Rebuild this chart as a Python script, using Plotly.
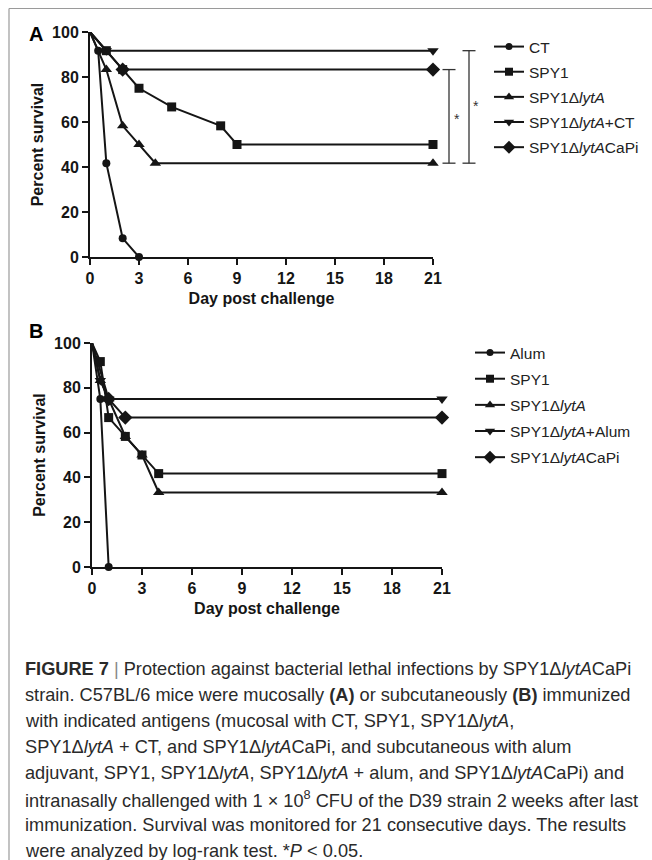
import plotly.graph_objects as go

W, H = 652, 860

# ---------------- data ----------------
days_ticks = [0, 3, 6, 9, 12, 15, 18, 21]
pct_ticks = [0, 20, 40, 60, 80, 100]

# Panel A (mucosal)
a_names = ["CT", "SPY1", "SPY1Δ<i>lytA</i>", "SPY1Δ<i>lytA</i>+CT", "SPY1Δ<i>lytA</i>CaPi"]
a_ct_x = [0, 0.5, 1, 2, 3]
a_ct_y = [100, 91.7, 41.7, 8.3, 0]
a_spy1_x = [0, 1, 2, 3, 5, 8, 9, 21]
a_spy1_y = [100, 91.7, 83.3, 75, 66.7, 58.3, 50, 50]
a_lyta_x = [0, 1, 2, 3, 4, 21]
a_lyta_y = [100, 83.3, 58.3, 50, 41.7, 41.7]
a_lytact_x = [0, 1, 21]
a_lytact_y = [100, 91.7, 91.7]
a_capi_x = [0, 2, 21]
a_capi_y = [100, 83.3, 83.3]

# Panel B (subcutaneous)
b_names = ["Alum", "SPY1", "SPY1Δ<i>lytA</i>", "SPY1Δ<i>lytA</i>+Alum", "SPY1Δ<i>lytA</i>CaPi"]
b_alum_x = [0, 0.5, 1]
b_alum_y = [100, 75, 0]
b_spy1_x = [0, 0.5, 1, 2, 3, 4, 21]
b_spy1_y = [100, 91.7, 66.7, 58.3, 50, 41.7, 41.7]
b_lyta_x = [0, 0.5, 1, 2, 3, 4, 21]
b_lyta_y = [100, 83.3, 75, 58.3, 50, 33.3, 33.3]
b_lytaal_x = [0, 0.5, 1, 21]
b_lytaal_y = [100, 83.3, 75, 75]
b_capi_x = [0, 1, 2, 21]
b_capi_y = [100, 75, 66.7, 66.7]

symbols = ["circle", "square", "triangle-up", "triangle-down", "diamond"]
msizes = [8, 9, 10, 10, 11]

caption_lines = [
    "<b>FIGURE 7</b> <span style='color:#888'>|</span> Protection against bacterial lethal infections by SPY1Δ<i>lytA</i>CaPi",
    "strain. C57BL/6 mice were mucosally <b>(A)</b> or subcutaneously <b>(B)</b> immunized",
    "with indicated antigens (mucosal with CT, SPY1, SPY1Δ<i>lytA</i>,",
    "SPY1Δ<i>lytA</i> + CT, and SPY1Δ<i>lytA</i>CaPi, and subcutaneous with alum",
    "adjuvant, SPY1, SPY1Δ<i>lytA</i>, SPY1Δ<i>lytA</i> + alum, and SPY1Δ<i>lytA</i>CaPi) and",
    "intranasally challenged with 1 × 10<sup>8</sup> CFU of the D39 strain 2 weeks after last",
    "immunization. Survival was monitored for 21 consecutive days. The results",
    "were analyzed by log-rank test. *<i>P</i> < 0.05.",
]

# ---------------- helpers ----------------
def X(px):
    return px / W

def Y(py):
    return 1 - py / H

INK = "#151515"
FONT = "Liberation Sans, Arial, sans-serif"

fig = go.Figure()

def add_panel(series, names, xa, ya, legend):
    for i, ((xs, ys), nm) in enumerate(zip(series, names)):
        sizes = [0] + [msizes[i]] * (len(xs) - 1)
        fig.add_trace(go.Scatter(
            x=xs, y=ys, mode="lines+markers", xaxis=xa, yaxis=ya,
            line=dict(color=INK, width=2),
            marker=dict(symbol=symbols[i], size=sizes, color=INK, opacity=1,
                        line=dict(width=0)),
            showlegend=False, cliponaxis=False, legendgroup=legend + str(i), legend=legend,
            hoverinfo="x+y", name=nm))
        fig.add_trace(go.Scatter(
            x=[None], y=[None], mode="lines+markers", xaxis=xa, yaxis=ya,
            line=dict(color=INK, width=2),
            marker=dict(symbol=symbols[i], size=msizes[i] - 1, color=INK, opacity=1,
                        line=dict(width=0)),
            name=nm, legendgroup=legend + str(i), legend=legend, showlegend=True))

a_series = [(a_ct_x, a_ct_y), (a_spy1_x, a_spy1_y), (a_lyta_x, a_lyta_y),
            (a_lytact_x, a_lytact_y), (a_capi_x, a_capi_y)]
b_series = [(b_alum_x, b_alum_y), (b_spy1_x, b_spy1_y), (b_lyta_x, b_lyta_y),
            (b_lytaal_x, b_lytaal_y), (b_capi_x, b_capi_y)]
add_panel(a_series, a_names, "x", "y", "legend")
add_panel(b_series, b_names, "x2", "y2", "legend2")

def xaxis_cfg(x0, x1):
    return dict(domain=[X(x0), X(x1)], range=[0, 21], tickvals=days_ticks,
                showline=True, linewidth=2, linecolor=INK, ticks="outside",
                ticklen=6, tickwidth=2, tickcolor=INK, showgrid=False, zeroline=False,
                tickfont=dict(family=FONT, size=16, color=INK, weight="bold"),
                title=dict(text="<b>Day post challenge</b>", standoff=7,
                           font=dict(family=FONT, size=16, color=INK)),
                automargin=False, fixedrange=True)

def yaxis_cfg(y_top, y_bot, anchor):
    return dict(domain=[Y(y_bot), Y(y_top)], range=[0, 100], tickvals=pct_ticks,
                anchor=anchor,
                showline=True, linewidth=2, linecolor=INK, ticks="outside",
                ticklen=6, tickwidth=2, tickcolor=INK, showgrid=False, zeroline=False,
                tickfont=dict(family=FONT, size=16, color=INK, weight="bold"),
                title=dict(text="<b>Percent survival</b>", standoff=4,
                           font=dict(family=FONT, size=16, color=INK)),
                automargin=False, fixedrange=True)

xa = xaxis_cfg(90, 433); xa["anchor"] = "y"
xb = xaxis_cfg(92, 442); xb["anchor"] = "y2"
fig.update_layout(
    xaxis=xa, yaxis=yaxis_cfg(32, 257, "x"),
    xaxis2=xb, yaxis2=yaxis_cfg(343, 567, "x2"),
)

shapes = []
annotations = []

# significance brackets (panel A), y in data units from the series end values
def bracket(xpx, y_hi, y_lo, half=6.5, star_dx=3, star_shift=-3):
    shapes.append(dict(type="line", xref="paper", yref="y", x0=X(xpx), x1=X(xpx),
                       y0=y_lo, y1=y_hi, line=dict(color="#333", width=1.3)))
    for yy in (y_hi, y_lo):
        shapes.append(dict(type="line", xref="paper", yref="y", x0=X(xpx - half),
                           x1=X(xpx + half), y0=yy, y1=yy, line=dict(color="#333", width=1.3)))
    annotations.append(dict(text="*", xref="paper", yref="y", x=X(xpx + star_dx),
                            y=(y_hi + y_lo) / 2,
                            xanchor="left", yanchor="middle", showarrow=False, yshift=star_shift,
                            font=dict(family=FONT, size=14, color="#333")))

bracket(449, a_capi_y[-1], a_lyta_y[-1])
bracket(469, a_lytact_y[-1], a_lyta_y[-1], star_dx=2, star_shift=1)

# panel letters
annotations.append(dict(text="<b>A</b>", xref="paper", yref="paper", x=X(36), y=Y(34),
                        xanchor="center", yanchor="middle", showarrow=False,
                        font=dict(family=FONT, size=20, color="#000")))
annotations.append(dict(text="<b>B</b>", xref="paper", yref="paper", x=X(36), y=Y(331),
                        xanchor="center", yanchor="middle", showarrow=False,
                        font=dict(family=FONT, size=20, color="#000")))

# caption
for k, line in enumerate(caption_lines):
    annotations.append(dict(text=line, xref="paper", yref="paper", x=X(23), y=Y(669 + 26 * k),
                            xanchor="left", yanchor="middle", showarrow=False, align="left",
                            font=dict(family=FONT, size=18.2, color="#2a2a2a")))

# frame lines
shapes.append(dict(type="line", xref="paper", yref="paper", x0=X(9), x1=1, y0=Y(8.5), y1=Y(8.5),
                   line=dict(color="#9a9a9a", width=1.2)))
shapes.append(dict(type="line", xref="paper", yref="paper", x0=X(9), x1=X(9), y0=Y(8.5), y1=0,
                   line=dict(color="#9a9a9a", width=1.2)))

legend_common = dict(bgcolor="rgba(0,0,0,0)", borderwidth=0,
                     font=dict(family=FONT, size=15.5, color="#222"),
                     xanchor="left", yanchor="top", itemclick=False, itemdoubleclick=False)

fig.update_layout(
    width=W, height=H, margin=dict(l=0, r=0, t=0, b=0),
    paper_bgcolor="white", plot_bgcolor="white",
    shapes=shapes, annotations=annotations,
    legend=dict(x=X(489), y=Y(30), tracegroupgap=2, **legend_common),
    legend2=dict(x=X(470), y=Y(336), tracegroupgap=3, **legend_common),
    showlegend=True,
)

fig.write_html(
    "out.html",
    config={"displayModeBar": False},
    post_script="document.body.style.margin='0';document.body.style.overflow='hidden';",
)
